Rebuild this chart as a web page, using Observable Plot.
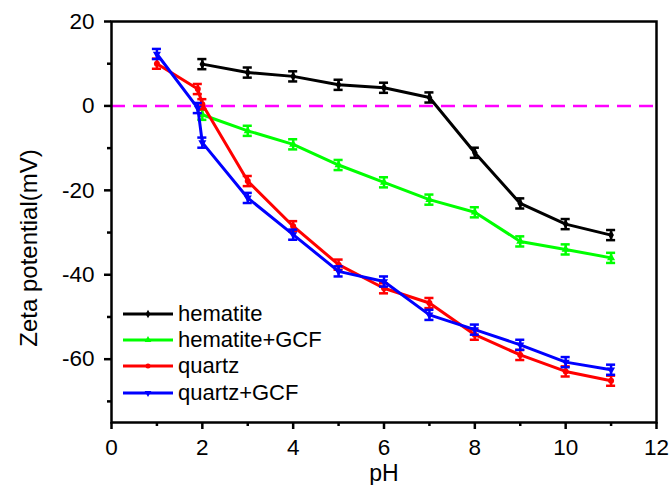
<!DOCTYPE html>
<html>
<head>
<meta charset="utf-8">
<script src="https://cdn.jsdelivr.net/npm/d3@7"></script>
<script src="https://cdn.jsdelivr.net/npm/@observablehq/plot@0.6"></script>
<style>
html, body { margin: 0; padding: 0; background: #fff; }
#wrap { position: relative; width: 672px; height: 485px; }
#legend { position: absolute; left: 122px; top: 301px; font-family: "Liberation Sans", Arial, sans-serif; font-size: 22px; color: #000; }
.row { display: flex; align-items: center; height: 26.2px; }
.row svg { display: block; margin-right: 5px; }
</style>
</head>
<body>
<div id="wrap"><div id="legend"></div></div>
<script>
// ---- data ----
const seriesNames = ["hematite", "hematite+GCF", "quartz", "quartz+GCF"];
const seriesColors = ["#000000", "#00ff00", "#ff0000", "#0000ff"];
const seriesSymbols = ["diamond", "triangle", "circle", "triangle"];
const seriesRotate = [0, 0, 0, 180];

const pH_hematite = [2, 3, 4, 5, 6, 7, 8, 9, 10, 11];
const zeta_hematite = [9.9, 7.9, 7.0, 5.0, 4.3, 2.0, -11.1, -23.1, -28.0, -30.6];
const err_hematite = [1.2, 1.2, 1.2, 1.2, 1.2, 1.2, 1.2, 1.2, 1.2, 1.2];

const pH_hematiteGCF = [2, 3, 4, 5, 6, 7, 8, 9, 10, 11];
const zeta_hematiteGCF = [-2.1, -5.9, -9.1, -14.0, -18.1, -22.2, -25.2, -32.1, -34.0, -36.0];
const err_hematiteGCF = [1.2, 1.2, 1.2, 1.2, 1.2, 1.2, 1.2, 1.2, 1.2, 1.2];

const pH_quartz = [1, 1.9, 2, 3, 4, 5, 6, 7, 8, 9, 10, 11];
const zeta_quartz = [10.0, 4.0, 0.4, -17.8, -28.5, -37.6, -43.2, -46.7, -54.2, -59.0, -62.9, -65.1];
const err_quartz = [1.2, 1.2, 1.2, 1.2, 1.2, 1.2, 1.2, 1.2, 1.2, 1.2, 1.2, 1.2];

const pH_quartzGCF = [1, 1.9, 2, 3, 4, 5, 6, 7, 8, 9, 10, 11];
const zeta_quartzGCF = [12.3, -0.5, -8.7, -21.8, -30.5, -39.2, -41.6, -49.5, -53.0, -56.6, -60.7, -62.5];
const err_quartzGCF = [1.2, 1.2, 1.2, 1.2, 1.2, 1.2, 1.2, 1.2, 1.2, 1.2, 1.2, 1.2];

const xMajorTicks = [0, 2, 4, 6, 8, 10, 12];
const xMinorTicks = [1, 3, 5, 7, 9, 11];
const yMajorTicks = [20, 0, -20, -40, -60];
const yMinorTicks = [10, -10, -30, -50, -70];
const refLine = [0];
const xTitle = "pH";
const yTitle = "Zeta potential(mV)";

// ---- build tables ----
const xs = [pH_hematite, pH_hematiteGCF, pH_quartz, pH_quartzGCF];
const ys = [zeta_hematite, zeta_hematiteGCF, zeta_quartz, zeta_quartzGCF];
const es = [err_hematite, err_hematiteGCF, err_quartz, err_quartzGCF];
const tables = seriesNames.map((name, k) =>
  xs[k].map((x, i) => ({ series: name, x, y: ys[k][i], e: es[k][i] }))
);

const font = '"Liberation Sans", Arial, sans-serif';
const capHalf = 0.1;

const marks = [
  Plot.ruleY(refLine, { stroke: "#ff00ff", strokeWidth: 2.5, strokeDasharray: "14,8" })
];
tables.forEach((data, k) => {
  const c = seriesColors[k];
  marks.push(
    Plot.line(data, { x: "x", y: "y", stroke: c, strokeWidth: 3 }),
    Plot.ruleX(data, { x: "x", y1: d => d.y - d.e, y2: d => d.y + d.e, stroke: c, strokeWidth: 2.5 }),
    Plot.ruleY(data, { y: d => d.y + d.e, x1: d => d.x - capHalf, x2: d => d.x + capHalf, stroke: c, strokeWidth: 2.5 }),
    Plot.ruleY(data, { y: d => d.y - d.e, x1: d => d.x - capHalf, x2: d => d.x + capHalf, stroke: c, strokeWidth: 2.5 }),
    Plot.dot(data, { x: "x", y: "y", symbol: () => seriesSymbols[k], rotate: seriesRotate[k], r: 3, fill: c, stroke: "none" })
  );
});
marks.push(
  Plot.frame({ stroke: "#000", strokeWidth: 2.5 }),
  Plot.axisX({ ticks: xMajorTicks, tickSize: 7, tickPadding: 10, strokeWidth: 2.5, fontSize: 22.5, label: null, tickFormat: d => String(d) }),
  Plot.axisX({ ticks: xMinorTicks, tickSize: 4, strokeWidth: 2.5, label: null, tickFormat: () => "" }),
  Plot.axisY({ ticks: yMajorTicks, tickSize: 7, tickPadding: 10, strokeWidth: 2.5, fontSize: 22.5, label: null, tickFormat: d => String(d) }),
  Plot.axisY({ ticks: yMinorTicks, tickSize: 4, strokeWidth: 2.5, label: null, tickFormat: () => "" }),
  Plot.text([yTitle], { frameAnchor: "left", textAnchor: "middle", rotate: -90, dx: -82, dy: 26, fontSize: 24, fill: "#000" }),
  Plot.text([xTitle], { frameAnchor: "bottom", lineAnchor: "middle", dy: 51, fontSize: 23, fill: "#000" })
);

const chart = Plot.plot({
  width: 672,
  height: 485,
  marginLeft: 111,
  marginRight: 16,
  marginTop: 21,
  marginBottom: 63,
  x: { domain: [0, 12] },
  y: { domain: [-75, 20] },
  style: { fontFamily: font, fontSize: "22px", color: "#000", background: "#fff", overflow: "visible" },
  marks
});
document.getElementById("wrap").prepend(chart);

// ---- legend ----
const legend = document.getElementById("legend");
seriesNames.forEach((name, k) => {
  const row = document.createElement("div");
  row.className = "row";
  const sym = d3.symbol().type(
    seriesSymbols[k] === "diamond" ? d3.symbolDiamond :
    seriesSymbols[k] === "triangle" ? d3.symbolTriangle : d3.symbolCircle
  ).size(20)();
  row.innerHTML =
    `<svg width="51" height="26"><line x1="1" y1="13" x2="51" y2="13" stroke="${seriesColors[k]}" stroke-width="3"/>` +
    `<path d="${sym}" transform="translate(26,13) rotate(${seriesRotate[k]})" fill="${seriesColors[k]}"/></svg>` +
    `<span>${name}</span>`;
  legend.appendChild(row);
});
</script>
</body>
</html>
